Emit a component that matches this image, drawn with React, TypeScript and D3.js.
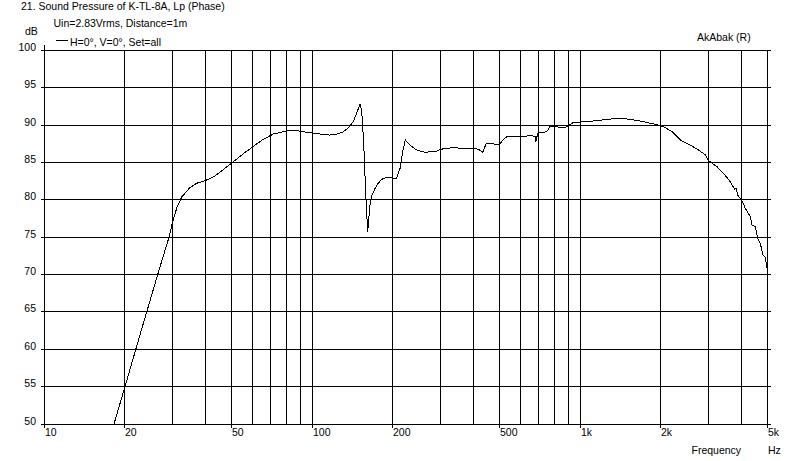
import React from "react";
import * as d3 from "d3";

const freqs = [
  18.2, 20, 23, 26.9, 29.2, 30.1, 31.2, 32.6, 34.9, 37, 40, 43, 46, 50, 55, 60, 65, 71.5, 80, 87.5,
  95, 100, 107, 116, 124, 130.5, 137, 142.2, 146.5, 150.6, 152.8, 155, 156.3, 158, 160.9, 162.5,
  164.5, 167, 171.4, 176, 181.6, 189.6, 200, 206.6, 212.5, 218, 222.3, 231.5, 245, 263, 291, 300,
  321.8, 336, 355.6, 380, 410.7, 425, 432.3, 444.7, 460.5, 480, 500, 512, 531.4, 595.8, 649, 677.6,
  683, 693.5, 749, 770.6, 877, 903, 936.7, 1026, 1154, 1250, 1400, 1500, 1700, 1900, 2000, 2100,
  2200, 2361, 2573, 2763, 2927, 3010, 3236, 3425, 3628, 3765, 3820, 3863, 4000, 4128, 4309, 4373,
  4498, 4588, 4695, 4805, 4901, 4972,
];
const spl = [
  50, 55.0, 62.5, 70.8, 75.0, 77.0, 78.9, 80.4, 81.6, 82.2, 82.6, 83.1, 83.9, 84.9, 86.1, 87.1,
  88.0, 88.8, 89.2, 89.25, 89.05, 88.95, 88.8, 88.65, 88.8, 89.1, 89.7, 90.45, 91.6, 92.8, 92.0,
  88.5, 85.8, 81.3, 75.7, 77.5, 79.6, 80.6, 81.5, 82.2, 82.74, 83.0, 82.9, 82.9, 84.2, 86.6, 88.0,
  87.33, 86.66, 86.35, 86.5, 86.75, 86.9, 87.0, 86.9, 86.85, 86.8, 86.6, 86.35, 87.45, 87.55,
  87.45, 87.4, 87.9, 88.45, 88.45, 88.57, 88.5, 87.75, 88.9, 89.1, 89.78, 89.7, 89.9, 90.3, 90.45,
  90.58, 90.75, 90.9, 90.8, 90.5, 90.1, 89.9, 89.55, 89.1, 88.0, 87.33, 86.66, 86.0, 85.23, 84.43,
  83.54, 82.42, 81.4, 81.5, 80.64, 79.97, 78.86, 77.74, 76.6, 76.4, 74.85, 74.18, 72.6, 72.3, 70.83,
];

const xGrid = [10, 20, 30, 40, 50, 60, 70, 80, 90, 100, 200, 300, 400, 500, 600, 700, 800, 900, 1000, 2000, 3000, 4000, 5000];
const xLabeled = [10, 20, 50, 100, 200, 500, 1000, 2000, 5000];
const xLabelText = ["10", "20", "50", "100", "200", "500", "1k", "2k", "5k"];
const yTicks = [50, 55, 60, 65, 70, 75, 80, 85, 90, 95, 100];

const title = "21. Sound Pressure of K-TL-8A, Lp (Phase)";
const subtitle = "Uin=2.83Vrms, Distance=1m";
const legendText = "H=0°, V=0°, Set=all";
const brand = "AkAbak (R)";

const FONT = "'Liberation Sans', Arial, sans-serif";

export default function App() {
  const x = d3.scaleLog().domain([10, 5000]).range([44.3, 44.3 + 268 * Math.log10(500)]);
  const y = d3.scaleLinear().domain([50, 100]).range([424, 50.3]);
  const px = (v: number) => Math.floor(x(v)) + 0.5;
  const py = (v: number) => Math.floor(y(v)) + 0.5;
  const line = d3
    .line<number>()
    .x((_, i) => x(freqs[i]))
    .y((d) => y(d));
  const path = line(spl) || "";
  const right = 770.5;
  const top = py(100);
  const bottom = py(50);

  return (
    <svg
      width={794}
      height={461}
      style={{ position: "absolute", left: 0, top: 0, background: "#fff" }}
      fontFamily={FONT}
      fontSize={10.5}
    >
      <rect x={0} y={0} width={794} height={461} fill="#fff" />
      <g stroke="#000" strokeWidth={1} shapeRendering="crispEdges">
        {yTicks.map((t) => (
          <line key={"h" + t} x1={40.5} x2={right} y1={py(t)} y2={py(t)} />
        ))}
        {xGrid.map((f) => {
          const lab = xLabeled.includes(f);
          return (
            <line
              key={"v" + f}
              x1={px(f)}
              x2={px(f)}
              y1={f === 10 ? 45 : top}
              y2={lab ? bottom + 3 : bottom}
            />
          );
        })}
        <line x1={56} x2={68} y1={40.5} y2={40.5} />
      </g>
      <path d={path} fill="none" stroke="#000" strokeWidth={1} shapeRendering="crispEdges" />
      <g fill="#000">
        {yTicks.map((t) => (
          <text key={"yl" + t} x={36} y={py(t)} textAnchor="end">
            {t}
          </text>
        ))}
        {xLabeled.map((f, i) => (
          <text key={"xl" + f} x={Math.floor(x(f)) + 1} y={436}>
            {xLabelText[i]}
          </text>
        ))}
        <text x={21} y={10.3}>{title}</text>
        <text x={53.5} y={27}>{subtitle}</text>
        <text x={25} y={35.3}>dB</text>
        <text x={70} y={46}>{legendText}</text>
        <text x={697} y={41}>{brand}</text>
        <text x={691.5} y={453.5}>Frequency</text>
        <text x={768} y={453.5}>Hz</text>
      </g>
    </svg>
  );
}
